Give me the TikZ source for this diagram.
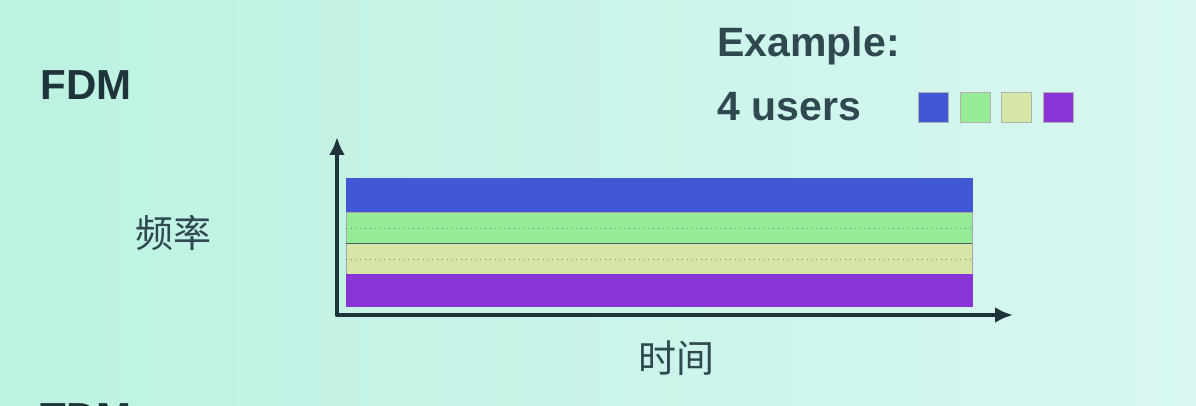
\documentclass[tikz,border=0pt]{standalone}
\usepackage{fontspec}
\setmainfont{Liberation Sans}
\newfontfamily\cjk{Noto Sans CJK SC}
\usetikzlibrary{arrows.meta}

\definecolor{bgleft}{RGB}{188,242,226}
\definecolor{bgright}{RGB}{216,247,241}
\definecolor{inkdark}{RGB}{30,52,58}
\definecolor{inkslate}{RGB}{48,72,80}
\definecolor{userblue}{RGB}{64,88,214}
\definecolor{usergreen}{RGB}{150,236,150}
\definecolor{userkhaki}{RGB}{214,230,166}
\definecolor{userpurple}{RGB}{136,52,214}

\begin{document}
\begin{tikzpicture}[x=0.5pt, y=-0.5pt, >={Latex[length=9pt,width=8pt]},
  title/.style={font=\fontsize{21}{25}\selectfont\bfseries, text=inkdark, inner sep=0pt},
  label/.style={font=\fontsize{20.5}{25}\selectfont\bfseries, text=inkslate, inner sep=0pt},
  axislabel/.style={font=\cjk\fontsize{19}{22}\selectfont, text=inkslate, inner sep=0pt},
  band/.style={minimum width=313pt, minimum height=#1, inner sep=0pt, draw=black!35, line width=0.3pt},
  swatch/.style={minimum size=15pt, inner sep=0pt, draw=black!30, line width=0.4pt},
  axis/.style={->, inkdark, line width=2pt, line cap=round}]
  \useasboundingbox (0,0) rectangle (1196,406);
  \shade[left color=bgleft, right color=bgright] (0,0) rectangle (1196,406);

  \node[title, anchor=base west] (fdm) at (40,100) {FDM};
  \node[title, anchor=base west] (tdm) at (40,433) {TDM};
  \node[label, anchor=base west] (example) at (717,57) {Example:};
  \node[label, anchor=base west] (users) at (717,121) {4 users};

  \node[swatch, fill=userblue]   (s1) at (933,107) {};
  \node[swatch, fill=usergreen]  (s2) at (975,107) {};
  \node[swatch, fill=userkhaki]  (s3) at (1016,107) {};
  \node[swatch, fill=userpurple] (s4) at (1058,107) {};

  \node[band=17pt, fill=userblue, draw=userblue]   (blue)   at (659,195.5) {};
  \node[band=15.5pt, fill=usergreen]  (green)  at (659,228) {};
  \node[band=15.5pt, fill=userkhaki]  (khaki)  at (659,259) {};
  \node[band=16pt, fill=userpurple, draw=userpurple] (purple) at (659,290) {};
  \draw[inkdark!80, line width=0.5pt] (green.south west) -- (green.south east);
  \draw[inkdark!60, dotted, line width=0.4pt] (green.west) -- (green.east);
  \draw[inkdark!60, dotted, line width=0.4pt] (khaki.west) -- (khaki.east);

  \coordinate (origin) at (337,315);
  \coordinate (ytip) at (337,137);
  \coordinate (xtip) at (1013,315);
  \draw[axis] (origin) -- (ytip);
  \draw[axis] (origin) -- (xtip);

  \node[axislabel] (freq) at (173,233) {频率};
  \node[axislabel] (time) at (676,358) {时间};
\end{tikzpicture}
\end{document}
